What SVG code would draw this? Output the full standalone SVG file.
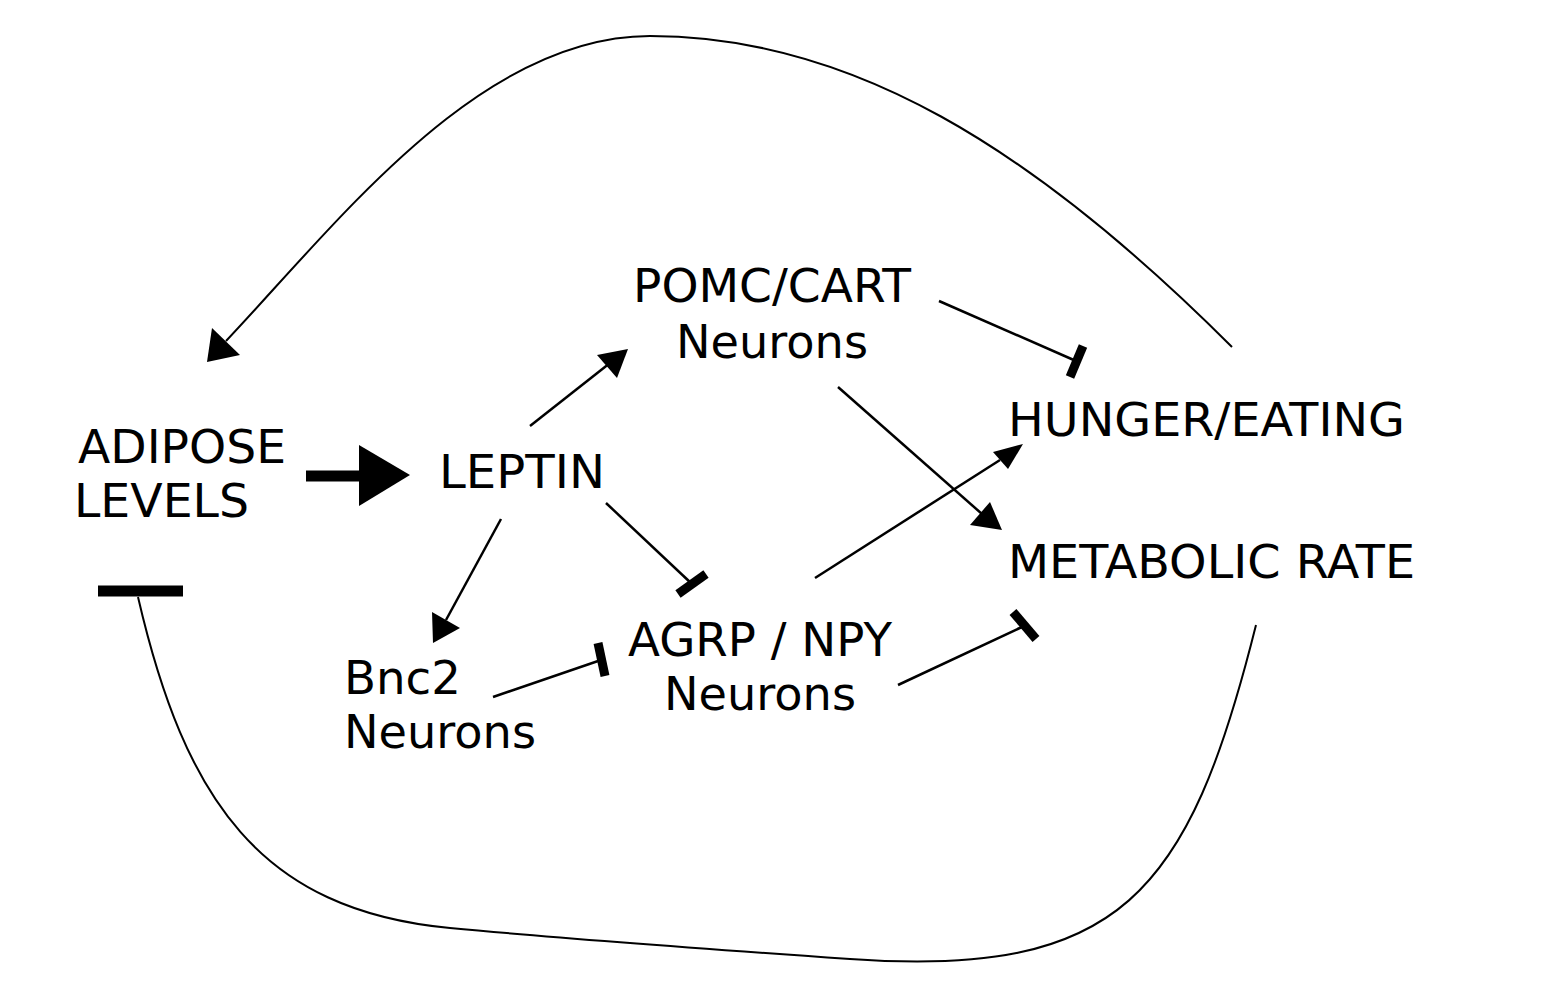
<svg xmlns="http://www.w3.org/2000/svg" width="1562" height="984" viewBox="0 0 1562 984">
<style>
.lbl{font-family:"DejaVu Sans",Verdana,sans-serif;font-size:46px;fill:#000}
.ln{stroke:#000;stroke-width:2.5;fill:none}
.cv{stroke:#000;stroke-width:2;fill:none}
.bar{stroke:#000;stroke-width:9;fill:none;stroke-linecap:butt}
.head{fill:#000;stroke:none}
</style>
<rect width="1562" height="984" fill="#fff"/>
<g id="adipose"><text class="lbl" x="78" y="463" textLength="208" lengthAdjust="spacingAndGlyphs">ADIPOSE</text><text class="lbl" x="74" y="517" textLength="175" lengthAdjust="spacingAndGlyphs">LEVELS</text></g>
<g id="leptin"><text class="lbl" x="439" y="488" textLength="166" lengthAdjust="spacingAndGlyphs">LEPTIN</text></g>
<g id="pomc"><text class="lbl" x="633" y="302" textLength="278" lengthAdjust="spacingAndGlyphs">POMC/CART</text><text class="lbl" x="676" y="358" textLength="192" lengthAdjust="spacingAndGlyphs">Neurons</text></g>
<g id="hunger"><text class="lbl" x="1008" y="436" textLength="397" lengthAdjust="spacingAndGlyphs">HUNGER/EATING</text></g>
<g id="metabolic"><text class="lbl" x="1008" y="578" textLength="407" lengthAdjust="spacingAndGlyphs">METABOLIC RATE</text></g>
<g id="agrp"><text class="lbl" x="628" y="656" textLength="264" lengthAdjust="spacingAndGlyphs">AGRP / NPY</text><text class="lbl" x="664" y="710" textLength="192" lengthAdjust="spacingAndGlyphs">Neurons</text></g>
<g id="bnc2"><text class="lbl" x="344" y="694" textLength="117" lengthAdjust="spacingAndGlyphs">Bnc2</text><text class="lbl" x="344" y="748" textLength="192" lengthAdjust="spacingAndGlyphs">Neurons</text></g>
<g id="connectors">
<line x1="306" y1="476" x2="362" y2="476" stroke="#000" stroke-width="11"/>
<polygon class="head" points="359,445 410,475 359,506"/>
<line class="ln" x1="530" y1="426" x2="610" y2="363"/>
<polygon class="head" points="628,349 597,355 617,378"/>
<line class="ln" x1="501" y1="519" x2="446" y2="620"/>
<polygon class="head" points="433,643 432,612 460,628"/>
<line class="ln" x1="606" y1="503" x2="692" y2="584"/>
<line class="bar" x1="706" y1="574" x2="678" y2="594"/>
<line class="ln" x1="493" y1="697" x2="601" y2="660"/>
<line class="bar" x1="598" y1="643" x2="605" y2="676"/>
<line class="ln" x1="939" y1="301" x2="1076" y2="361"/>
<line class="bar" x1="1083" y1="346" x2="1070" y2="377"/>
<line class="ln" x1="838" y1="387" x2="982" y2="514"/>
<polygon class="head" points="1002,530 970,525 990,502"/>
<line class="ln" x1="815" y1="578" x2="1000" y2="460"/>
<polygon class="head" points="1023,444 993,452 1008,469"/>
<line class="ln" x1="898" y1="685" x2="1024" y2="626"/>
<line class="bar" x1="1013" y1="612" x2="1036" y2="639"/>
<path class="cv" d="M1232,347 C1032,147 850,36 650,36 C480,36 340,220 226,341"/>
<polygon class="head" points="207,362 212,328 240,355"/>
<line x1="98" y1="591" x2="183" y2="591" stroke="#000" stroke-width="11"/>
<path class="cv" d="M138,597 C185,800 260,910 450,928 C550,937.5 750,952 850,959 C1120,978 1188.5,895 1256,625"/>
</g>
</svg>
